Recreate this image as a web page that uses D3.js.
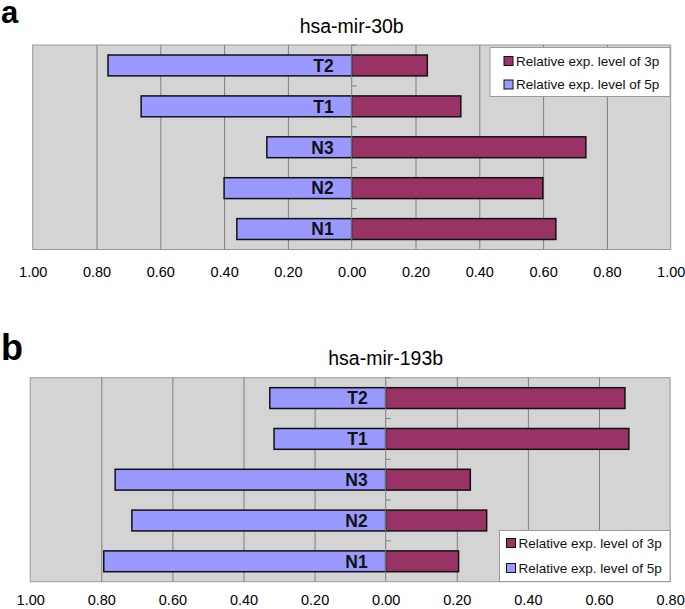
<!DOCTYPE html>
<html>
<head>
<meta charset="utf-8">
<script src="https://cdn.jsdelivr.net/npm/d3@7/dist/d3.min.js"></script>
<style>
  body { margin: 0; background: #fff; }
  svg { display: block; font-family: "Liberation Sans", Arial, sans-serif; }
</style>
</head>
<body>
<svg id="chart" width="685" height="609"></svg>
<script>
const categories = ["T2", "T1", "N3", "N2", "N1"];

const mir30b5p = [0.764, 0.66, 0.266, 0.40, 0.36];
const mir30b3p = [0.237, 0.342, 0.734, 0.599, 0.64];

const mir193b5p = [0.326, 0.314, 0.761, 0.714, 0.793];
const mir193b3p = [0.673, 0.684, 0.238, 0.284, 0.205];

const ticksA = [-1, -0.8, -0.6, -0.4, -0.2, 0, 0.2, 0.4, 0.6, 0.8, 1];
const ticksB = [-1, -0.8, -0.6, -0.4, -0.2, 0, 0.2, 0.4, 0.6, 0.8];

const legendLabels = ["Relative exp. level of 3p", "Relative exp. level of 5p"];

const color3p = "#993366";
const color5p = "#9999ff";

const svg = d3.select("#chart");

function drawPanel(opts) {
  const { letter, letterSize, letterY, title, titleY, left, top, right, bottom,
          domain, ticks, v5p, v3p, legend, tickY } = opts;

  const x = d3.scaleLinear().domain(domain).range([left, right]);
  const y = d3.scaleBand().domain(categories).range([top, bottom]).paddingInner(0.49).paddingOuter(0.245);
  const band = d3.scaleBand().domain(categories).range([top, bottom]);

  svg.append("text")
    .attr("x", 1)
    .attr("y", letterY)
    .attr("font-size", letterSize)
    .attr("font-weight", 700)
    .attr("fill", "#000")
    .text(letter);

  svg.append("text")
    .attr("x", x(0))
    .attr("y", titleY)
    .attr("text-anchor", "middle")
    .attr("font-size", 19.5)
    .attr("fill", "#000")
    .text(title);

  svg.append("rect")
    .attr("x", left)
    .attr("y", top)
    .attr("width", right - left)
    .attr("height", bottom - top)
    .attr("fill", "#d4d4d4")
    .attr("stroke", "#9a9a9a")
    .attr("stroke-width", 1);

  // vertical gridlines
  svg.append("g")
    .attr("transform", `translate(0, ${bottom})`)
    .call(d3.axisBottom(x).tickValues(ticks.filter(t => t !== 0 && t !== domain[0] && t !== domain[1]))
      .tickSize(-(bottom - top)).tickFormat(""))
    .call(g => g.select(".domain").remove())
    .call(g => g.selectAll("line").attr("stroke", "#7f7f7f").attr("stroke-width", 1));

  // tick labels
  svg.append("g")
    .attr("transform", `translate(0, ${tickY})`)
    .call(d3.axisBottom(x).tickValues(ticks).tickSize(0).tickPadding(0)
      .tickFormat(d => Math.abs(d).toFixed(2)))
    .call(g => g.select(".domain").remove())
    .call(g => g.selectAll("text")
      .attr("font-size", 14.5)
      .attr("font-family", "Liberation Sans, Arial, sans-serif")
      .attr("fill", "#000")
      .attr("dy", 0));

  const bh = y.bandwidth();

  svg.append("g")
    .selectAll("rect")
    .data(categories)
    .join("rect")
    .attr("x", (d, i) => x(-v5p[i]))
    .attr("y", d => y(d))
    .attr("width", (d, i) => x(0) - x(-v5p[i]))
    .attr("height", bh)
    .attr("fill", color5p)
    .attr("stroke", "#111")
    .attr("stroke-width", 1.5);

  svg.append("g")
    .selectAll("rect")
    .data(categories)
    .join("rect")
    .attr("x", x(0))
    .attr("y", d => y(d))
    .attr("width", (d, i) => x(v3p[i]) - x(0))
    .attr("height", bh)
    .attr("fill", color3p)
    .attr("stroke", "#111")
    .attr("stroke-width", 1.5);

  // zero axis with small ticks at category boundaries
  const axisG = svg.append("g");
  axisG.append("line")
    .attr("x1", x(0)).attr("x2", x(0))
    .attr("y1", top).attr("y2", bottom)
    .attr("stroke", "#808080");
  axisG.selectAll("line.tk")
    .data(categories)
    .join("line")
    .attr("class", "tk")
    .attr("x1", x(0)).attr("x2", x(0) + 5)
    .attr("y1", d => band(d)).attr("y2", d => band(d))
    .attr("stroke", "#808080");

  svg.append("g")
    .selectAll("text")
    .data(categories)
    .join("text")
    .attr("x", x(0) - 18)
    .attr("y", d => y(d) + bh / 2)
    .attr("dy", "0.36em")
    .attr("text-anchor", "end")
    .attr("font-size", 17.5)
    .attr("font-weight", 700)
    .attr("fill", "#111")
    .text(d => d);

  // legend
  const lg = svg.append("g").attr("transform", `translate(${legend.x}, ${legend.y})`);
  lg.append("rect")
    .attr("width", legend.w)
    .attr("height", legend.h)
    .attr("fill", "#fff")
    .attr("stroke", "#9a9a9a");
  const rows = [color3p, color5p];
  rows.forEach((c, i) => {
    const cy = legend.row0 + i * legend.rowGap;
    lg.append("rect")
      .attr("x", legend.sx)
      .attr("y", cy - 4.5)
      .attr("width", 9)
      .attr("height", 9)
      .attr("fill", c)
      .attr("stroke", "#111")
      .attr("stroke-width", 1);
    lg.append("text")
      .attr("x", legend.sx + 12)
      .attr("y", cy)
      .attr("dy", "0.36em")
      .attr("font-size", 13.5)
      .attr("fill", "#111")
      .text(legendLabels[i]);
  });
}

drawPanel({
  letter: "a", letterSize: 31, letterY: 23,
  title: "hsa-mir-30b", titleY: 33,
  left: 32.7, top: 45, right: 670.7, bottom: 249.5,
  domain: [-1, 1], ticks: ticksA,
  v5p: mir30b5p, v3p: mir30b3p,
  tickY: 277,
  legend: { x: 490, y: 47.5, w: 180, h: 49, sx: 14, row0: 13.5, rowGap: 23.5 }
});

drawPanel({
  letter: "b", letterSize: 36, letterY: 360,
  title: "hsa-mir-193b", titleY: 365,
  left: 30.2, top: 377.7, right: 670.1, bottom: 581.7,
  domain: [-1, 0.8], ticks: ticksB,
  v5p: mir193b5p, v3p: mir193b3p,
  tickY: 605,
  legend: { x: 499.5, y: 530.5, w: 170.5, h: 51, sx: 7, row0: 12.5, rowGap: 25 }
});
</script>
</body>
</html>
